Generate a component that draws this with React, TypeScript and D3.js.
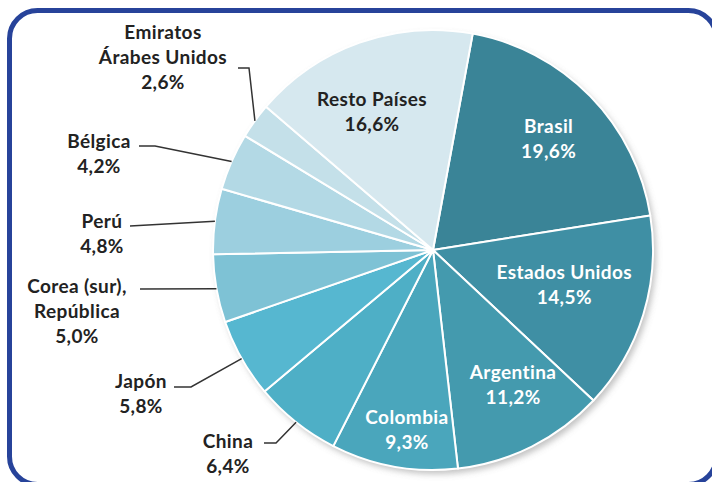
import React from 'react';
import * as d3 from 'd3';

// ---- data ----
const countries = [
  'Brasil',
  'Estados Unidos',
  'Argentina',
  'Colombia',
  'China',
  'Japón',
  'Corea (sur), República',
  'Perú',
  'Bélgica',
  'Emiratos Árabes Unidos',
  'Resto Países',
];
const shares = [19.6, 14.5, 11.2, 9.3, 6.4, 5.8, 5.0, 4.8, 4.2, 2.6, 16.6];
const shareLabels = ['19,6%', '14,5%', '11,2%', '9,3%', '6,4%', '5,8%', '5,0%', '4,8%', '4,2%', '2,6%', '16,6%'];
const nameLines = [
  ['Brasil'],
  ['Estados Unidos'],
  ['Argentina'],
  ['Colombia'],
  ['China'],
  ['Japón'],
  ['Corea (sur),', 'República'],
  ['Perú'],
  ['Bélgica'],
  ['Emiratos', 'Árabes Unidos'],
  ['Resto Países'],
];

// ---- styling / layout ----
const W = 712;
const H = 482;
const CX = 433;
const CY = 250;
const R = 220;
const START_DEG = 10.4;

const colors = [
  '#3a8497',
  '#3f8fa4',
  '#449aae',
  '#4aa6bc',
  '#4eafc6',
  '#56b7d0',
  '#7ec2d5',
  '#9ccfdf',
  '#b3d9e5',
  '#c4e0e9',
  '#d6e8ef',
];

// inside labels: index -> radius, angle offset in degrees, color
const insideLayout: Record<number, { r: number; da: number; fill: string }> = {
  0: { r: 160, da: 0.6, fill: '#ffffff' },
  1: { r: 136, da: -2, fill: '#ffffff' },
  2: { r: 157, da: -4, fill: '#ffffff' },
  3: { r: 182, da: -2, fill: '#ffffff' },
  10: { r: 150, da: -4.5, fill: '#222222' },
};

// outside labels: text centre x, first baseline y, leader start & optional elbow
const outsideLayout: Record<number, { x: number; y: number; sx: number; sy: number; ex?: number; ey?: number }> = {
  4: { x: 228, y: 448, sx: 264, sy: 443, ex: 276, ey: 443 },
  5: { x: 141, y: 388, sx: 174, sy: 387, ex: 191, ey: 387 },
  6: { x: 77, y: 293, sx: 140, sy: 289 },
  7: { x: 102, y: 228, sx: 130, sy: 226 },
  8: { x: 99, y: 148, sx: 139, sy: 146, ex: 155, ey: 146 },
  9: { x: 163, y: 39, sx: 238, sy: 68, ex: 249, ey: 68 },
};

const LH = 25;
const FS = 19;
const LS = 0.4;
const FONT = 'Lato, "Open Sans", "DejaVu Sans", sans-serif';

export default function App() {
  const start = (START_DEG * Math.PI) / 180;
  const pie = d3
    .pie<number>()
    .sort(null)
    .value((d) => d)
    .startAngle(start)
    .endAngle(start + 2 * Math.PI);
  const arcs = pie(shares);
  const arcGen = d3.arc<d3.PieArcDatum<number>>().innerRadius(0).outerRadius(R);

  const polar = (ang: number, r: number): [number, number] => [
    CX + r * Math.sin(ang),
    CY - r * Math.cos(ang),
  ];

  return (
    <svg width={W} height={H} style={{ position: 'absolute', left: 0, top: 0, background: '#fff' }}>
      <defs>
        <filter id="shadow" x="-10%" y="-10%" width="125%" height="125%">
          <feDropShadow dx="3" dy="4" stdDeviation="3" floodColor="#777" floodOpacity="0.45" />
        </filter>
      </defs>
      <rect x={0} y={0} width={W} height={H} fill="#ffffff" />
      <rect
        x={9.5}
        y={10.5}
        width={707}
        height={474}
        rx={28}
        ry={28}
        fill="#ffffff"
        stroke="#27439a"
        strokeWidth={5}
      />
      <g filter="url(#shadow)">
        <circle cx={CX} cy={CY} r={R} fill="#d6e8ef" />
      </g>
      <g transform={`translate(${CX},${CY})`}>
        {arcs.map((a, i) => (
          <path key={i} d={arcGen(a) || ''} fill={colors[i]} stroke="#ffffff" strokeWidth={2} strokeLinejoin="round" />
        ))}
      </g>
      {/* inside labels */}
      {arcs.map((a, i) => {
        const lay = insideLayout[i];
        if (!lay) return null;
        const mid = (a.startAngle + a.endAngle) / 2 + (lay.da * Math.PI) / 180;
        const [x, y] = polar(mid, lay.r);
        const lines = [...nameLines[i], shareLabels[i]];
        const y0 = y - ((lines.length - 1) * LH) / 2 + 6;
        return (
          <text key={'in' + i} textAnchor="middle" fontFamily={FONT} fontWeight={700} fontSize={FS} letterSpacing={LS} fill={lay.fill}>
            {lines.map((t, k) => (
              <tspan key={k} x={x} y={y0 + k * LH}>
                {t}
              </tspan>
            ))}
          </text>
        );
      })}
      {/* outside labels with leader lines */}
      {arcs.map((a, i) => {
        const lay = outsideLayout[i];
        if (!lay) return null;
        const mid = (a.startAngle + a.endAngle) / 2;
        const [px, py] = polar(mid, R);
        const pts: [number, number][] = [[lay.sx, lay.sy]];
        if (lay.ex !== undefined && lay.ey !== undefined) pts.push([lay.ex, lay.ey]);
        pts.push([px, py]);
        const lines = [...nameLines[i], shareLabels[i]];
        return (
          <g key={'out' + i}>
            <path d={d3.line()(pts) || ''} fill="none" stroke="#333" strokeWidth={1.5} />
            <text textAnchor="middle" fontFamily={FONT} fontWeight={700} fontSize={FS} letterSpacing={LS} fill="#222">
              {lines.map((t, k) => (
                <tspan key={k} x={lay.x} y={lay.y + k * LH}>
                  {t}
                </tspan>
              ))}
            </text>
          </g>
        );
      })}
    </svg>
  );
}
